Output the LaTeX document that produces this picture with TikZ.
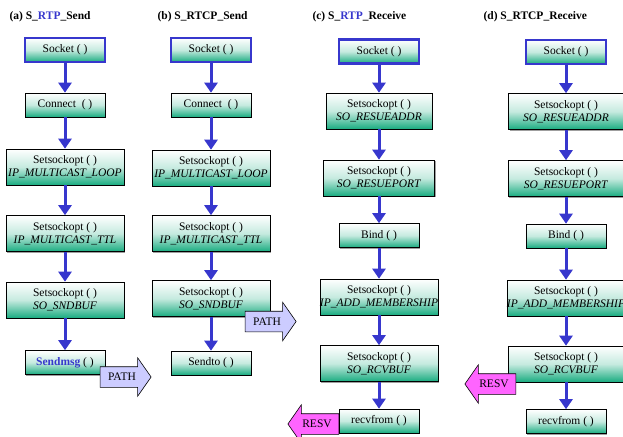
\documentclass[tikz,border=0pt]{standalone}
\usepackage{fontspec}
\setmainfont{Liberation Serif}
\usetikzlibrary{arrows.meta,shapes.arrows,shadows}

\definecolor{flowblue}{RGB}{55,55,205}
\definecolor{boxteal}{RGB}{25,172,128}
\definecolor{pathblue}{RGB}{204,204,255}
\definecolor{resvpink}{RGB}{255,100,255}

\newcommand{\callfont}{\fontsize{11.5}{13}\selectfont}
\newcommand{\overtext}[1]{\makebox[0pt]{#1}}

\tikzset{
  callbox/.style={draw=black, line width=0.6pt, top color=white, bottom color=boxteal,
    middle color=boxteal!25, minimum width=80pt, minimum height=24pt, inner sep=0pt,
    align=center, font=\callfont,
    drop shadow={shadow xshift=1.2pt, shadow yshift=-1.2pt, fill=black!75}},
  widebox/.style={callbox, minimum width=118pt, minimum height=36pt},
  sockbox/.style={callbox, draw=flowblue, line width=2.5pt},
  flow/.style={draw=flowblue, line width=3pt, -{Triangle[width=13pt,length=10pt]}},
  patharrow/.style={single arrow, draw=black, line width=0.6pt, fill=pathblue,
    font=\callfont, minimum height=51pt, inner xsep=2pt, inner ysep=5.5pt,
    text height=8pt, text depth=1pt, single arrow head extend=9pt,
    single arrow tip angle=110},
  resvarrow/.style={patharrow, fill=resvpink, shape border rotate=180},
  title/.style={anchor=west, font=\callfont\bfseries}
}

\begin{document}
\begin{tikzpicture}[x=1pt,y=-1pt]
  \useasboundingbox (0,0) rectangle (623,436);

  % titles
  \node[title] (titleA) at (6,17) {(a) S\_\textcolor{flowblue}{RTP}\_Send};
  \node[title] (titleB) at (154,17) {(b) S\_RTCP\_Send};
  \node[title] (titleC) at (309,17) {(c) S\_\textcolor{flowblue}{RTP}\_Receive};
  \node[title] (titleD) at (480,17) {(d) S\_RTCP\_Receive};

  % column (a): RTP send
  \node[sockbox] (sockA) at (65,50) {Socket ( )};
  \node[callbox] (connA) at (65,105) {Connect~ ( )};
  \node[widebox] (loopA) at (65,167) {Setsockopt ( )\\\textit{IP\_MULTICAST\_LOOP}};
  \node[widebox] (ttlA) at (65,233.5) {Setsockopt ( )\\\textit{IP\_MULTICAST\_TTL}};
  \node[widebox] (sndA) at (65,300) {Setsockopt ( )\\\textit{SO\_SNDBUF}};
  \node[callbox] (msgA) at (65,362.5) {\textcolor{flowblue}{\textbf{Sendmsg}} ( )};

  % column (b): RTCP send
  \node[sockbox] (sockB) at (211,50) {Socket ( )};
  \node[callbox] (connB) at (211,105) {Connect~ ( )};
  \node[widebox] (loopB) at (211,168) {Setsockopt ( )\\\textit{IP\_MULTICAST\_LOOP}};
  \node[widebox] (ttlB) at (211,233.5) {Setsockopt ( )\\\textit{IP\_MULTICAST\_TTL}};
  \node[widebox] (sndB) at (211,298.5) {Setsockopt ( )\\\textit{SO\_SNDBUF}};
  \node[callbox] (toB) at (211,363) {Sendto ( )};

  % column (c): RTP receive
  \node[sockbox] (sockC) at (379,51.5) {Socket ( )};
  \node[widebox, minimum width=106pt] (addrC) at (379,111) {Setsockopt ( )\\\textit{SO\_RESUEADDR}};
  \node[widebox, minimum width=111pt] (portC) at (379,178) {Setsockopt ( )\\\textit{SO\_RESUEPORT}};
  \node[callbox] (bindC) at (379,235.5) {Bind ( )};
  \node[widebox] (membC) at (379,297) {Setsockopt ( )\\\overtext{\textit{IP\_ADD\_MEMBERSHIP}}};
  \node[widebox] (rcvC) at (379,363.5) {Setsockopt ( )\\\textit{SO\_RCVBUF}};
  \node[callbox] (recvC) at (379,421) {recvfrom ( )};

  % column (d): RTCP receive
  \node[sockbox] (sockD) at (566,52) {Socket ( )};
  \node[widebox, minimum width=115pt] (addrD) at (566,111.5) {Setsockopt ( )\\\textit{SO\_RESUEADDR}};
  \node[widebox, minimum width=116pt] (portD) at (566,178.5) {Setsockopt ( )\\\textit{SO\_RESUEPORT}};
  \node[callbox] (bindD) at (566,236) {Bind ( )};
  \node[widebox] (membD) at (566,298) {Setsockopt ( )\\\overtext{\textit{IP\_ADD\_MEMBERSHIP}}};
  \node[widebox, minimum width=116pt] (rcvD) at (566,364) {Setsockopt ( )\\\textit{SO\_RCVBUF}};
  \node[callbox] (recvD) at (566,421.5) {recvfrom ( )};

  % call order
  \foreach \u/\v in {sockA/connA, connA/loopA, loopA/ttlA, ttlA/sndA, sndA/msgA,
                     sockB/connB, connB/loopB, loopB/ttlB, ttlB/sndB, sndB/toB,
                     sockC/addrC, addrC/portC, portC/bindC, bindC/membC, membC/rcvC, rcvC/recvC,
                     sockD/addrD, addrD/portD, portD/bindD, bindD/membD, membD/rcvD, rcvD/recvD}
    \draw[flow] (\u) -- (\v);

  % path and resv marks
  \node[patharrow] (pathA) at (122,377) {PATH};
  \node[patharrow] (pathB) at (267,321.5) {PATH};
  \node[resvarrow] (resvC) at (317,424) {RESV};
  \node[resvarrow] (resvD) at (494,384) {RESV};
\end{tikzpicture}
\end{document}
